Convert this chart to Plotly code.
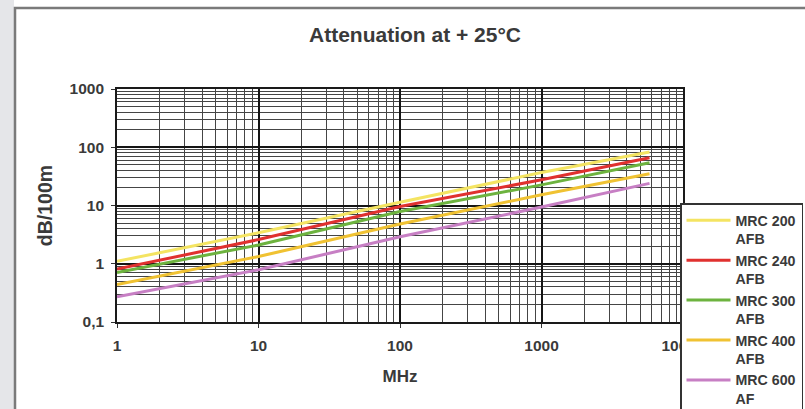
import plotly.graph_objects as go

# ---- data ----
freq_mhz = [1, 10, 100, 1000, 5800]
mrc200 = [1.10, 3.4, 11.4, 36.8, 83]
mrc240 = [0.81, 2.6, 9.6, 27.6, 66]
mrc300 = [0.71, 2.1, 7.9, 22.6, 54]
mrc400 = [0.44, 1.33, 4.8, 15.3, 35]
mrc600 = [0.27, 0.79, 2.9, 9.4, 24]

series_names = ["MRC 200<br>AFB", "MRC 240<br>AFB", "MRC 300<br>AFB", "MRC 400<br>AFB", "MRC 600<br>AF"]
series_values = [mrc200, mrc240, mrc300, mrc400, mrc600]
series_colors = ["#f4e462", "#e0312f", "#6db33f", "#f0c232", "#c77fc4"]

x_tickvals = [1, 10, 100, 1000, 10000]
x_ticktext = ["1", "10", "100", "1000", "10000"]
y_tickvals = [0.1, 1, 10, 100, 1000]
y_ticktext = ["0,1", "1", "10", "100", "1000"]

FONT = "Liberation Sans, Arial, sans-serif"
TXT = "#3a3a3a"

fig = go.Figure()
for name, vals, col in zip(series_names, series_values, series_colors):
    fig.add_trace(go.Scatter(x=freq_mhz, y=vals, mode="lines", name=name,
                             line=dict(color=col, width=3)))

# plot area in px: x 117..683, y 89..322
W, H = 805, 409
L, R, T, B = 117, 683, 89, 322
pw, ph = R - L, B - T
def px(x):
    return (x - L) / pw
def py(y):
    return (B - y) / ph

shapes = [
    dict(type="rect", xref="paper", yref="paper", x0=px(-5), x1=px(14), y0=py(420), y1=py(-5),
         fillcolor="#e5e6e9", line=dict(width=0), layer="below"),
    dict(type="rect", xref="paper", yref="paper", x0=px(15), x1=px(812), y0=py(420), y1=py(8),
         fillcolor="white", line=dict(color="#7a7a7a", width=2.5), layer="below"),
]

axis_common = dict(
    type="log", showline=True, linecolor="#1a1a1a", linewidth=1.6, mirror=True,
    showgrid=True, gridcolor="#151515", gridwidth=1.5,
    ticks="outside", ticklen=4, tickcolor="#333",
    tickfont=dict(family=FONT, size=15.5, color=TXT, weight="bold"),
    minor=dict(dtick="D1", showgrid=True, gridcolor="#454545", gridwidth=1.3, ticks=""),
    zeroline=False,
)

fig.update_layout(
    width=W, height=H,
    margin=dict(l=L, r=W - R, t=T, b=H - B, autoexpand=False),
    paper_bgcolor="white", plot_bgcolor="white",
    shapes=shapes,
    title=dict(text="<b>Attenuation at + 25°C</b>", xref="container", x=415 / W, xanchor="center",
               y=1 - 35 / H, yanchor="middle",
               font=dict(family=FONT, size=21, color=TXT)),
    xaxis=dict(axis_common, range=[0, 4], tickmode="array", tickvals=x_tickvals, ticktext=x_ticktext,
               ticklabelstandoff=5,
               title=dict(text="<b>MHz</b>", font=dict(family=FONT, size=17, color=TXT), standoff=17)),
    yaxis=dict(axis_common, range=[-1, 3], tickmode="array", tickvals=y_tickvals, ticktext=y_ticktext,
               ticklabelstandoff=4,
               title=dict(text="<b>dB/100m</b>", font=dict(family=FONT, size=19.5, color=TXT), standoff=12)),
    legend=dict(x=px(680), y=py(203), xanchor="left", yanchor="top", valign="top",
                bgcolor="white", bordercolor="#333", borderwidth=1.5,
                font=dict(family=FONT, size=14.2, color=TXT, weight="bold"),
                itemwidth=44, tracegroupgap=0),
    showlegend=True,
)

fig.write_html("out.html", config={"displayModeBar": False},
               post_script="document.body.style.margin='0';document.body.style.overflow='hidden';")
